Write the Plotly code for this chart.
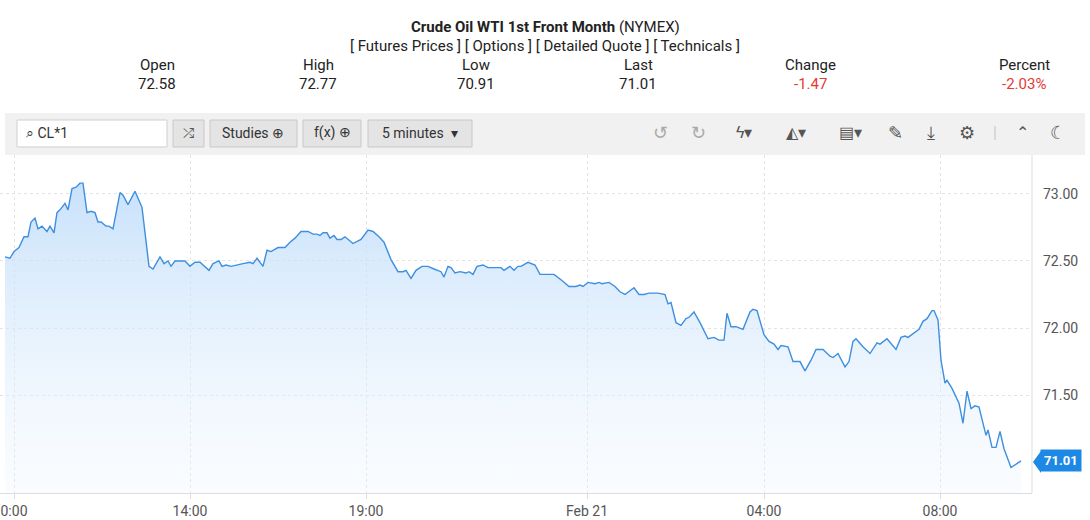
import plotly.graph_objects as go

# ---- data ----
bar_pos = [5,10,14,19,24,28,31,35,38,42,47,50,54,57,61,65,68,72,76,80,83,87,91,95,98,101,106,109,113,120,123,128,135,142,149,153,160,164,168,171,175,181,185,190,195,200,209,213,219,222,226,231,236,243,250,253,257,263,267,271,278,285,290,295,301,308,313,317,320,323,327,330,334,337,341,345,353,361,368,373,379,384,391,398,403,406,411,416,422,428,434,441,444,448,451,455,460,466,469,473,477,483,488,494,501,504,510,514,518,521,528,535,540,
           545,554,561,569,576,580,583,588,595,599,602,609,615,620,625,634,639,644,649,658,665,668,671,676,681,686,689,694,700,708,714,719,724,727,731,736,743,750,753,757,764,769,774,778,781,788,793,800,805,811,816,823,830,833,838,845,849,853,856,863,870,877,880,887,896,901,905,908,919,923,927,932,934,938,941,945,947,952,959,963,967,971,975,979,986,988,992,996,1000,1004,1011,1021]
price = [72.53,72.52,72.57,72.60,72.68,72.68,72.79,72.82,72.74,72.76,72.72,72.76,72.71,72.86,72.89,72.93,72.88,73.04,73.05,73.08,73.08,72.86,72.87,72.86,72.79,72.79,72.76,72.76,72.74,73.01,72.99,72.92,73.02,72.90,72.46,72.44,72.53,72.48,72.50,72.46,72.50,72.50,72.50,72.46,72.49,72.49,72.43,72.48,72.50,72.46,72.47,72.46,72.47,72.48,72.49,72.48,72.52,72.46,72.58,72.57,72.60,72.60,72.64,72.67,72.72,72.72,72.70,72.70,72.69,72.71,72.71,72.67,72.69,72.66,72.66,72.68,72.63,72.66,72.73,72.72,72.68,72.64,72.51,72.42,72.42,72.43,72.37,72.43,72.46,72.46,72.44,72.42,72.38,72.46,72.45,72.41,72.42,72.41,72.42,72.40,72.46,72.47,72.45,72.45,72.45,72.43,72.46,72.43,72.46,72.46,72.49,72.47,72.40,
         72.40,72.40,72.36,72.31,72.31,72.32,72.31,72.34,72.33,72.34,72.33,72.34,72.31,72.27,72.25,72.30,72.25,72.25,72.26,72.26,72.25,72.18,72.19,72.04,72.02,72.07,72.08,72.12,72.04,71.92,71.93,71.91,71.91,72.11,72.01,72.01,71.99,72.12,72.14,72.13,71.95,71.90,71.88,71.84,71.87,71.86,71.75,71.75,71.68,71.76,71.84,71.84,71.79,71.78,71.81,71.71,71.75,71.90,71.92,71.86,71.81,71.89,71.88,71.92,71.84,71.93,71.94,71.93,71.99,72.05,72.07,72.13,72.13,72.06,71.76,71.59,71.61,71.55,71.44,71.29,71.53,71.40,71.42,71.41,71.20,71.24,71.11,71.11,71.23,71.10,70.96,71.01]
tick_pos = [14, 190, 366, 587, 764, 940]
tick_text = ["0:00", "14:00", "19:00", "Feb 21", "04:00", "08:00"]
y_ticks = [71.5, 72.0, 72.5, 73.0]
y_min, y_max = 70.77, 73.29
quote_labels = ["Open", "High", "Low", "Last", "Change", "Percent"]
quote_values = ["72.58", "72.77", "70.91", "71.01", "-1.47", "-2.03%"]
last_price = 71.01

W, H = 1090, 520
ML, MR, MT, MB = 0, 58, 155, 27
PH = H - MT - MB
PW = W - ML - MR
def py(p):  # pixel y -> paper
    return (H - MB - p) / PH
def px(p):
    return (p - ML) / PW

FONT = "Roboto, Arial, sans-serif"
fig = go.Figure()
fig.add_trace(go.Scatter(x=bar_pos, y=[y_min]*len(bar_pos), mode="lines",
                         line=dict(width=0), hoverinfo="skip", showlegend=False))
fig.add_trace(go.Scatter(x=bar_pos, y=price, mode="lines", fill="tonexty",
                         line=dict(color="#3d8fe0", width=1.4),
                         fillgradient=dict(type="vertical",
                                           colorscale=[[0, "rgba(235,244,254,0.25)"], [1, "rgba(190,220,250,0.85)"]]),
                         showlegend=False))

shapes = []
ann = []
ann.append(dict(text="<b>Crude Oil WTI 1st Front Month</b> (NYMEX)", x=px(545), y=py(27)))
ann.append(dict(text="[ Futures Prices ] [ Options ] [ Detailed Quote ] [ Technicals ]", x=px(545), y=py(46)))
cols = [157, 318, 476, 638, 810, 1024]
for c, l, v in zip(cols, quote_labels, quote_values):
    red = v.startswith("-")
    ann.append(dict(text=l, x=px(c), y=py(65)))
    ann.append(dict(text=v, x=px(c), y=py(84), font=dict(color="#e53935" if red else "#222", size=15, family=FONT)))
for a in ann:
    a.setdefault("font", dict(size=15, color="#222", family=FONT))
    a.update(xref="paper", yref="paper", showarrow=False, xanchor="center", yanchor="middle")

# toolbar
shapes.append(dict(type="rect", xref="paper", yref="paper", x0=px(5), x1=px(1085), y0=py(113), y1=py(155),
                   fillcolor="#f1f1f1", line=dict(width=0), layer="below"))
shapes.append(dict(type="rect", xref="paper", yref="paper", x0=px(17), x1=px(167), y0=py(120), y1=py(147),
                   fillcolor="white", line=dict(color="#cfcfcf", width=1)))
for x0, x1 in [(173, 204), (210, 297), (303, 361), (368, 472)]:
    shapes.append(dict(type="rect", xref="paper", yref="paper", x0=px(x0), x1=px(x1), y0=py(120), y1=py(147),
                       fillcolor="#e4e4e4", line=dict(color="#c8c8c8", width=1)))
tb = [("⌕ CL*1", 24, "left", "#333", 14), ("⤮", 188, "center", "#555", 14), ("Studies ⊕", 253, "center", "#333", 14),
      ("f(x) ⊕", 332, "center", "#333", 14), ("5 minutes  ▾", 420, "center", "#333", 14),
      ("↺", 660, "center", "#aaa", 18), ("↻", 698, "center", "#aaa", 18), ("ϟ▾", 744, "center", "#555", 16),
      ("◭▾", 796, "center", "#555", 16), ("▤▾", 850, "center", "#555", 16), ("✎", 895, "center", "#555", 18),
      ("⤓", 931, "center", "#555", 18), ("⚙", 967, "center", "#555", 18), ("|", 995, "center", "#ccc", 16),
      ("⌃", 1022, "center", "#555", 16), ("☾", 1058, "center", "#555", 18)]
for t, x, anc, col, sz in tb:
    fig.add_annotation(text=t, x=px(x), y=py(133), xref="paper", yref="paper", showarrow=False,
                       xanchor=anc, yanchor="middle", font=dict(size=sz, color=col, family=FONT))
for a in ann:
    fig.add_annotation(**a)

fig.add_annotation(text="<b>71.01</b>", x=px(1040), y=last_price, xref="paper", yref="y", showarrow=False,
                   xanchor="left", yanchor="middle", bgcolor="#1e88e5", font=dict(color="white", size=13, family=FONT),
                   borderpad=3)
shapes.append(dict(type="path", xref="paper", yref="paper",
                   path=f"M {px(1033)},{py(462)} L {px(1041)},{py(451)} L {px(1041)},{py(473)} Z",
                   fillcolor="#1e88e5", line=dict(width=0)))
shapes.append(dict(type="line", xref="paper", yref="paper", x0=1, x1=1, y0=0, y1=1, line=dict(color="#ddd", width=1)))

fig.update_layout(width=W, height=H, margin=dict(l=ML, r=MR, t=MT, b=MB),
                  paper_bgcolor="white", plot_bgcolor="white", shapes=shapes,
                  font=dict(family=FONT, color="#555"))
fig.update_xaxes(range=[0, PW], tickvals=tick_pos, ticktext=tick_text, showgrid=True,
                 gridcolor="#e3e3e3", griddash="dot", zeroline=False, showline=True, linecolor="#ddd",
                 ticks="outside", tickcolor="#ddd", ticklen=5, tickfont=dict(size=14, color="#555"))
fig.update_yaxes(range=[y_min, y_max], side="right", tickvals=y_ticks, ticktext=[f"{v:.2f}" for v in y_ticks],
                 showgrid=True, gridcolor="#e3e3e3", griddash="dot", zeroline=False,
                 tickfont=dict(size=14, color="#555"), ticklabelstandoff=10)
fig.write_html("out.html", config={"displayModeBar": False},
               post_script="document.body.style.margin='0';document.body.style.padding='0';document.body.style.overflow='hidden';")
